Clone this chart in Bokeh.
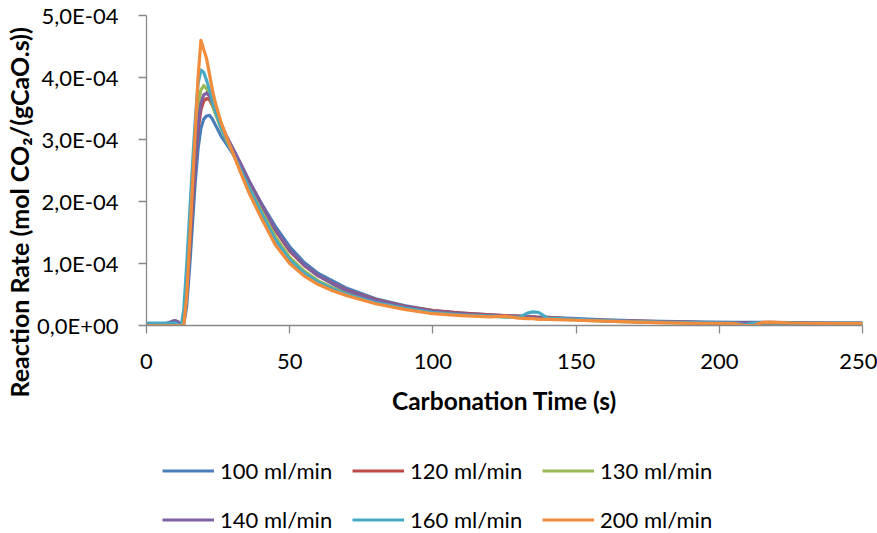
import math
from bokeh.plotting import figure
from bokeh.layouts import column
from bokeh.models import FixedTicker, Legend, LegendItem, Title, Range1d
from bokeh.embed import file_html
from bokeh.resources import INLINE

# Carbonation time (s)
time_s = [0, 5, 9, 10, 11, 12, 13, 14, 15, 16,
          17, 18, 19, 20, 21, 22, 23, 24, 26, 28,
          30, 33, 36, 40, 45, 50, 55, 60, 65, 70,
          80, 90, 100, 110, 120, 125, 130, 133, 135, 137,
          140, 150, 160, 175, 190, 205, 209, 212, 215, 218,
          225, 240, 245, 250]

# Reaction rate, in units of 1E-04 mol CO2/(gCaO.s)
rate_100 = [0.02, 0.02, 0.02, 0.02, 0.02, 0.02, 0.02, 0.30, 0.90, 1.60,
            2.30, 2.85, 3.18, 3.33, 3.38, 3.39, 3.33, 3.24, 3.06, 2.92,
            2.78, 2.55, 2.30, 1.98, 1.60, 1.27, 1.02, 0.84, 0.72, 0.60,
            0.43, 0.32, 0.24, 0.20, 0.17, 0.16, 0.15, 0.14, 0.14, 0.13,
            0.13, 0.11, 0.09, 0.07, 0.06, 0.05, 0.05, 0.05, 0.05, 0.05,
            0.045, 0.04, 0.04, 0.04]
rate_120 = [0.0, 0.0, 0.0, 0.0, 0.0, 0.0, 0.05, 0.50, 1.20, 1.90,
            2.60, 3.15, 3.48, 3.62, 3.66, 3.64, 3.55, 3.44, 3.22, 3.03,
            2.86, 2.58, 2.30, 1.95, 1.53, 1.20, 0.97, 0.80, 0.68, 0.57,
            0.42, 0.31, 0.24, 0.20, 0.17, 0.16, 0.15, 0.14, 0.14, 0.13,
            0.13, 0.10, 0.085, 0.065, 0.05, 0.04, 0.04, 0.04, 0.04, 0.04,
            0.04, 0.035, 0.035, 0.035]
rate_130 = [0.02, 0.02, 0.02, 0.02, 0.02, 0.02, 0.10, 0.70, 1.50, 2.30,
            3.00, 3.55, 3.80, 3.87, 3.82, 3.70, 3.56, 3.42, 3.18, 2.98,
            2.80, 2.52, 2.24, 1.86, 1.43, 1.10, 0.88, 0.72, 0.61, 0.52,
            0.38, 0.28, 0.21, 0.17, 0.15, 0.14, 0.13, 0.12, 0.12, 0.11,
            0.11, 0.09, 0.07, 0.05, 0.04, 0.03, 0.03, 0.03, 0.03, 0.03,
            0.03, 0.0, 0.02, 0.02]
rate_140 = [0.0, 0.0, 0.07, 0.08, 0.06, 0.02, 0.10, 0.60, 1.30, 2.00,
            2.70, 3.25, 3.58, 3.72, 3.75, 3.70, 3.60, 3.48, 3.25, 3.05,
            2.87, 2.60, 2.32, 1.97, 1.55, 1.22, 0.98, 0.80, 0.67, 0.56,
            0.41, 0.30, 0.23, 0.19, 0.16, 0.15, 0.14, 0.13, 0.13, 0.12,
            0.12, 0.10, 0.08, 0.06, 0.05, 0.04, 0.04, 0.04, 0.04, 0.04,
            0.04, 0.035, 0.035, 0.035]
rate_160 = [0.04, 0.04, 0.04, 0.04, 0.02, -0.04, 0.25, 0.95, 1.75, 2.55,
            3.30, 3.90, 4.12, 4.08, 3.95, 3.80, 3.63, 3.47, 3.20, 3.00,
            2.80, 2.50, 2.20, 1.82, 1.38, 1.06, 0.85, 0.70, 0.59, 0.50,
            0.37, 0.28, 0.21, 0.17, 0.15, 0.14, 0.13, 0.20, 0.22, 0.21,
            0.12, 0.10, 0.08, 0.06, 0.045, 0.04, 0.01, 0.04, 0.045, 0.045,
            0.04, 0.035, 0.035, 0.035]
rate_200 = [0.0, 0.0, 0.0, 0.0, 0.0, 0.0, 0.0, 0.45, 1.30, 2.20,
            3.10, 4.00, 4.60, 4.45, 4.30, 4.05, 3.80, 3.60, 3.28, 3.03,
            2.80, 2.45, 2.12, 1.74, 1.30, 1.00, 0.80, 0.66, 0.56, 0.48,
            0.35, 0.26, 0.19, 0.16, 0.14, 0.15, 0.12, 0.11, 0.11, 0.10,
            0.10, 0.085, 0.07, 0.05, 0.035, 0.03, 0.0, 0.0, 0.05, 0.055,
            0.04, 0.03, 0.03, 0.03]

series_labels = ["100 ml/min", "120 ml/min", "130 ml/min",
                 "140 ml/min", "160 ml/min", "200 ml/min"]
series_values = [rate_100, rate_120, rate_130, rate_140, rate_160, rate_200]
series_colors = ["#4A7EBB", "#BE4B48", "#98B954", "#7D60A0", "#46AAC5", "#F08C3C"]

x_ticks = [0, 50, 100, 150, 200, 250]
y_ticks = [0, 1, 2, 3, 4, 5]
y_tick_labels = ["0,0E+00", "1,0E-04", "2,0E-04", "3,0E-04", "4,0E-04", "5,0E-04"]

FONT = "Lato"
LINE_W = 3.2

# ---------------- main chart ----------------
p = figure(width=877, height=440, output_backend="svg", toolbar_location=None,
           x_range=Range1d(0, 250), y_range=Range1d(0, 5),
           min_border_left=146, min_border_right=15, min_border_top=15,
           min_border_bottom=115)
p.outline_line_color = None
p.xgrid.visible = False
p.ygrid.visible = False
p.background_fill_color = "white"
p.border_fill_color = "white"

for vals, col in zip(series_values, series_colors):
    p.line(time_s, vals, line_color=col, line_width=LINE_W, line_join="round")

for ax in (p.xaxis[0], p.yaxis[0]):
    ax.axis_line_color = "#898989"
    ax.axis_line_width = 1.3
    ax.major_tick_line_color = "#898989"
    ax.major_tick_line_width = 1.3
    ax.major_tick_out = 8
    ax.major_tick_in = 0
    ax.minor_tick_out = 0
    ax.minor_tick_in = 0
    ax.major_label_text_font = FONT
    ax.major_label_text_font_size = "22px"
    ax.major_label_text_color = "#000000"

p.xaxis.ticker = FixedTicker(ticks=x_ticks)
p.yaxis.ticker = FixedTicker(ticks=y_ticks)
p.yaxis.major_label_overrides = {t: l for t, l in zip(y_ticks, y_tick_labels)}
p.xaxis.major_label_standoff = 20
p.yaxis.major_label_standoff = 20

p.xaxis.axis_label = "Carbonation Time (s)"
p.xaxis.axis_label_text_font = FONT
p.xaxis.axis_label_text_font_style = "bold"
p.xaxis.axis_label_text_font_size = "24.5px"
p.xaxis.axis_label_text_color = "#000000"
p.xaxis.axis_label_standoff = 14

ytitle = Title(text="Reaction Rate (mol CO\u2082/(gCaO.s))", align="left",
               offset=-72, standoff=2, text_font=FONT, text_font_style="bold",
               text_font_size="25px", text_color="#000000")
p.add_layout(ytitle, "left")

# ---------------- legend strip ----------------
# The series are repeated here only so the legend has glyphs; the view range
# lies outside the data so nothing but the legend is seen.
lg = figure(width=877, height=93, output_backend="svg", toolbar_location=None,
            x_range=Range1d(1000, 1001), y_range=Range1d(1000, 1001),
            x_axis_type=None, y_axis_type=None,
            min_border_left=0, min_border_right=0, min_border_top=0,
            min_border_bottom=0)
lg.outline_line_color = None
lg.xgrid.visible = False
lg.ygrid.visible = False
lg.background_fill_color = "white"
lg.border_fill_color = "white"

items = []
for lab, vals, col in zip(series_labels, series_values, series_colors):
    r = lg.line(time_s, vals, line_color=col, line_width=LINE_W)
    items.append(LegendItem(label=lab, renderers=[r]))

legend = Legend(items=items, orientation="horizontal", ncols=3,
                location=(16, -5), glyph_width=52, glyph_height=37,
                label_height=37, label_width=120, label_standoff=6,
                spacing=12, padding=0, margin=0,
                border_line_color=None, background_fill_alpha=0,
                label_text_font=FONT, label_text_font_size="22px",
                label_text_color="#000000")
lg.add_layout(legend)

page = column(p, lg, spacing=0)
open("out.html", "w").write(file_html(page, INLINE))
